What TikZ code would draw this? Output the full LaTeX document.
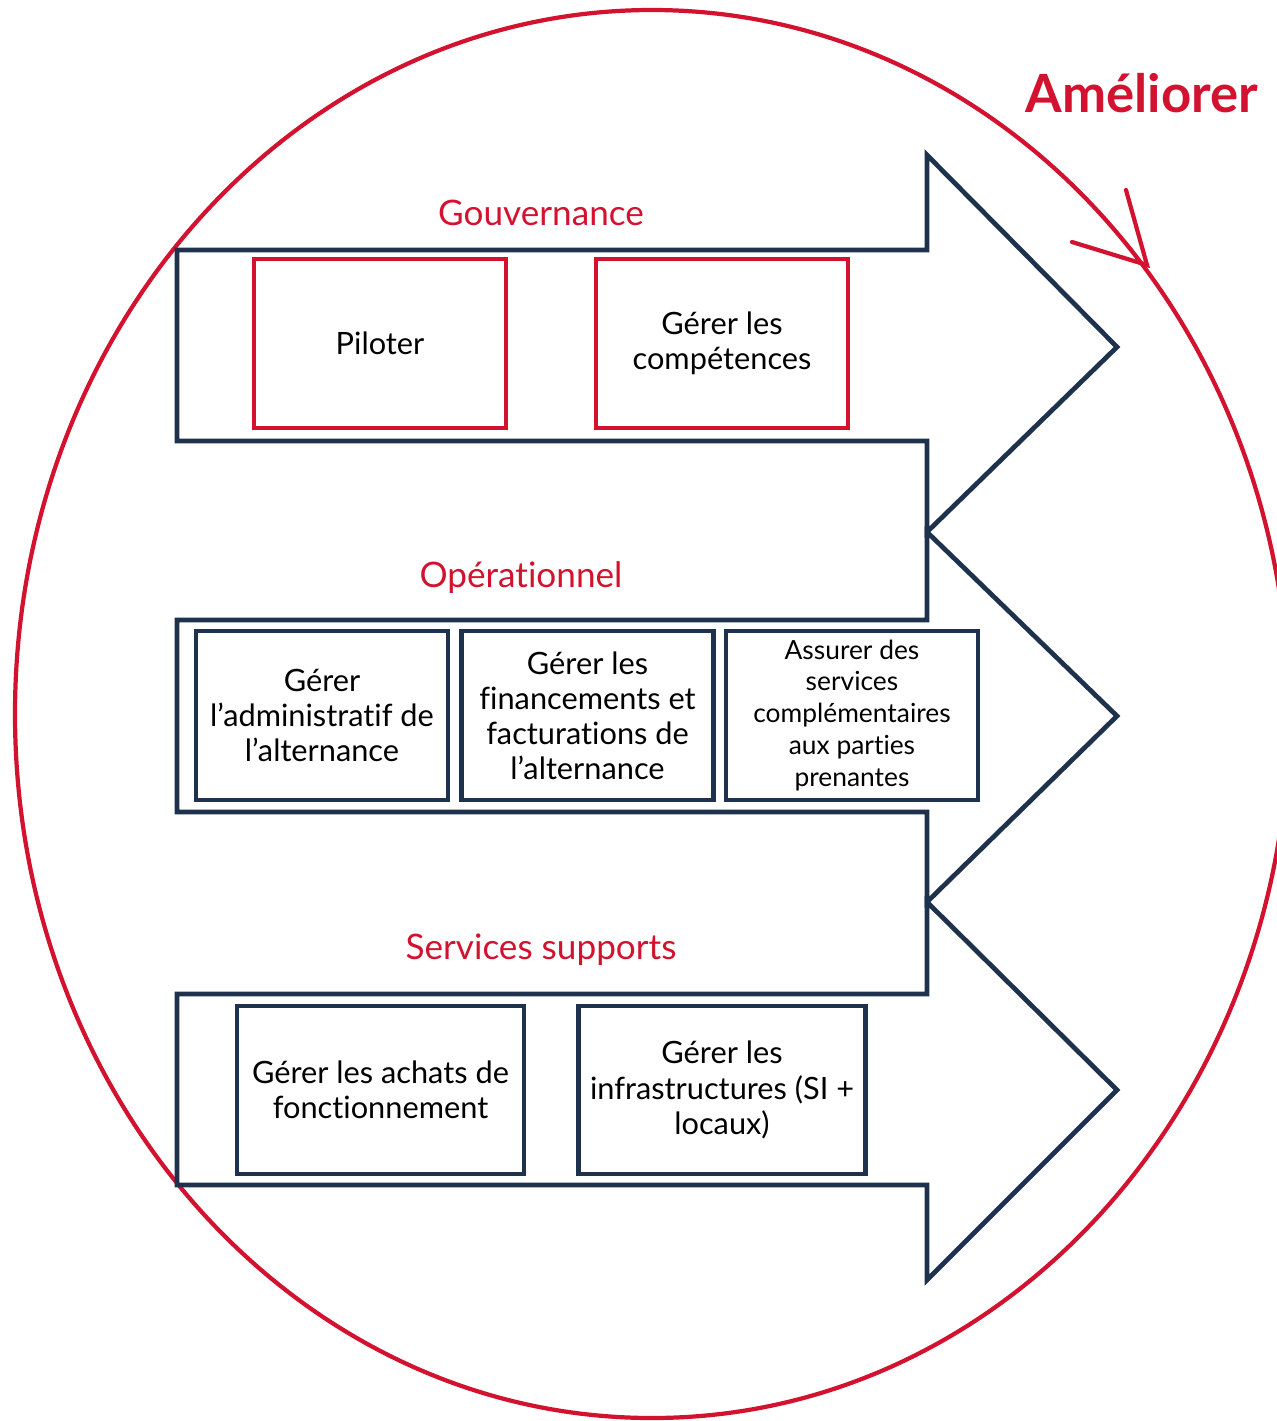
\documentclass[tikz,border=0pt]{standalone}
\usepackage{fontspec}
\setmainfont{Lato}[Ligatures=NoCommon]
\usetikzlibrary{positioning}
\definecolor{rouge}{RGB}{210,18,46}
\definecolor{marine}{RGB}{30,50,78}

\tikzset{
  fleche/.style={draw=marine,line width=2.7pt,line join=miter},
  boite/.style={draw=marine,line width=2.7pt,align=center,inner sep=2pt,
    minimum width=5.04cm,minimum height=3.38cm,font=\fontsize{17.5}{20}\selectfont},
  boiterouge/.style={boite,draw=rouge,line width=2.4pt},
  titre/.style={text=rouge,font=\fontsize{20}{23}\selectfont},
}

\begin{document}
\begin{tikzpicture}[x=0.02cm,y=-0.02cm]
\clip (0,0) rectangle (1277,1421);

% cercle d'amelioration
\draw[rouge,line width=2.4pt] (652,714) ellipse [x radius=637, y radius=704];
\draw[rouge,line width=2.4pt,line cap=round] (1126,190) -- (1147,265) -- (1072,242);
\node[draw=none,text=rouge,font=\fontsize{30}{33}\selectfont\bfseries] (ameliorer) at (1142,93) {Améliorer};

% les trois fleches
\draw[fleche,fill=white] (177,250) -- (927,250) -- (927,155) -- (1117,347) -- (927,532) -- (927,441) -- (177,441) -- cycle;
\draw[fleche,fill=white] (177,620) -- (927,620) -- (927,532) -- (1117,716) -- (927,902) -- (927,812) -- (177,812) -- cycle;
\draw[fleche,fill=white] (177,994) -- (927,994) -- (927,902) -- (1117,1090) -- (927,1280) -- (927,1185) -- (177,1185) -- cycle;

% gouvernance
\node[titre] (gouv) at (541,213) {Gouvernance};
\node[boiterouge] (piloter) at (380,343.5) {Piloter};
\node[boiterouge] (competences) at (722,343.5) {Gérer les\\compétences};

% operationnel
\node[titre] (oper) at (521,578) {Opérationnel};
\node[boite] (admin) at (322,715.5) {Gérer\\l’administratif de\\l’alternance};
\node[boite] (financ) at (587.5,715.5) {Gérer les\\financements et\\facturations de\\l’alternance};
\node[boite,font=\fontsize{15}{18.2}\selectfont] (servcomp) at (852,715.5) {Assurer des\\services\\complémentaires\\aux parties\\prenantes};

% services supports
\node[titre] (supports) at (541,950) {Services supports};
\node[boite,minimum width=5.74cm,minimum height=3.36cm] (achats) at (380.5,1090) {Gérer les achats de\\fonctionnement};
\node[boite,minimum width=5.74cm,minimum height=3.36cm] (infra) at (722,1090) {Gérer les\\infrastructures (SI +\\locaux)};

\end{tikzpicture}
\end{document}
